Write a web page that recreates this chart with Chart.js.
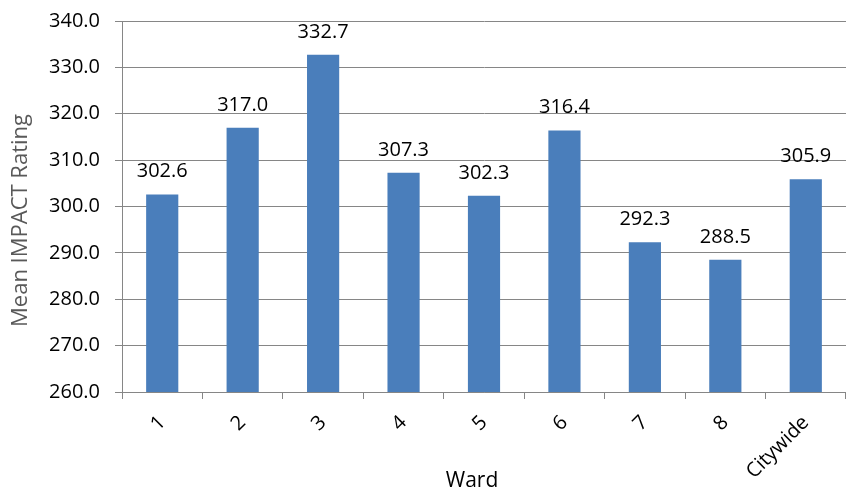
<!DOCTYPE html>
<html>
<head>
<meta charset="utf-8">
<script src="https://cdn.jsdelivr.net/npm/chart.js@4"></script>
<style>
  html, body { margin: 0; padding: 0; background: #ffffff; }
  #wrap { width: 846px; height: 490px; }
</style>
</head>
<body>
<div id="wrap"><canvas id="c" width="846" height="490"></canvas></div>
<script>
// ---- data ----
const categories = ["1", "2", "3", "4", "5", "6", "7", "8", "Citywide"];
const meanRating = [302.6, 317.0, 332.7, 307.3, 302.3, 316.4, 292.3, 288.5, 305.9];
const yMin = 260;
const yMax = 340;
const yStep = 10;
const yTitle = "Mean IMPACT Rating";
const xTitle = "Ward";

const FONT = "'Open Sans', 'Noto Sans', sans-serif";
const GRID = "#868686";

const overlay = {
  id: "overlay",
  afterDatasetsDraw(chart) {
    const ctx = chart.ctx;
    const meta = chart.getDatasetMeta(0);
    ctx.save();
    ctx.font = "20px " + FONT;
    ctx.fillStyle = "#000000";
    ctx.textAlign = "center";
    ctx.textBaseline = "alphabetic";
    meta.data.forEach((bar, i) => {
      ctx.fillText(meanRating[i].toFixed(1), bar.x, bar.y - 17);
    });
    ctx.restore();
  },
  afterDraw(chart) {
    const ctx = chart.ctx;
    const a = chart.chartArea;
    ctx.save();
    // y title
    ctx.font = "22px " + FONT;
    ctx.fillStyle = "#595959";
    ctx.textAlign = "center";
    ctx.textBaseline = "middle";
    ctx.translate(21, (a.top + a.bottom) / 2 + 14);
    ctx.rotate(-Math.PI / 2);
    ctx.fillText(yTitle, 0, 0);
    ctx.restore();
    // x title
    ctx.save();
    ctx.font = "21px " + FONT;
    ctx.fillStyle = "#000000";
    ctx.textAlign = "center";
    ctx.textBaseline = "alphabetic";
    ctx.fillText(xTitle, (a.left + a.right) / 2 - 12, a.bottom + 95);
    ctx.restore();
  }
};

new Chart(document.getElementById("c"), {
  type: "bar",
  data: {
    labels: categories,
    datasets: [{
      data: meanRating,
      backgroundColor: "#4a7ebb",
      borderWidth: 0,
      barPercentage: 0.4,
      categoryPercentage: 1.0
    }]
  },
  options: {
    responsive: false,
    animation: false,
    layout: { padding: { top: 21, right: 0, bottom: 0, left: 0 } },
    plugins: {
      legend: { display: false },
      tooltip: { enabled: false },
      title: { display: false }
    },
    scales: {
      x: {
        grid: {
          display: true,
          drawOnChartArea: false,
          drawTicks: true,
          tickLength: 7,
          color: GRID,
          lineWidth: 1
        },
        border: { display: true, color: GRID, width: 1 },
        ticks: {
          autoSkip: false,
          minRotation: 45,
          maxRotation: 45,
          color: "#000000",
          font: { family: FONT, size: 20 },
          padding: 12
        },
        afterFit(scale) { scale.height = 98; scale.paddingRight = 0; }
      },
      y: {
        min: yMin,
        max: yMax,
        grid: {
          display: true,
          drawOnChartArea: true,
          drawTicks: true,
          tickLength: 7,
          color: GRID,
          lineWidth: 1
        },
        border: { display: true, color: GRID, width: 1 },
        ticks: {
          stepSize: yStep,
          color: "#000000",
          font: { family: FONT, size: 20 },
          padding: 15,
          callback: (v) => Number(v).toFixed(1)
        },
        afterFit(scale) { scale.width = 122; scale.paddingTop = 0; scale.paddingBottom = 0; }
      }
    }
  },
  plugins: [overlay]
});
</script>
</body>
</html>
